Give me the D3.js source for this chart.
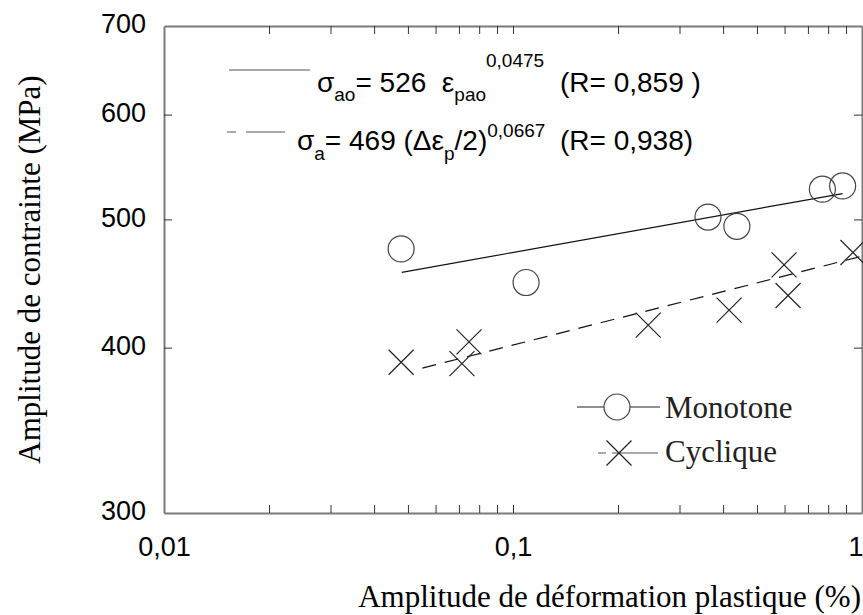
<!DOCTYPE html>
<html><head><meta charset="utf-8">
<script src="https://cdn.jsdelivr.net/npm/d3@7"></script>
<style>body{margin:0;background:#fff} text{white-space:pre}</style>
</head><body><svg id="c" width="863" height="615"></svg>
<script>
// ---- data ----
const monoX = [0.0478, 0.109, 0.362, 0.438, 0.77, 0.88];
const monoY = [475, 448, 502, 494, 527, 530];
const cycX = [0.0478, 0.0714, 0.0748, 0.244, 0.416, 0.598, 0.614, 0.942];
const cycY = [390, 389, 404, 416, 427, 462, 438, 472];
const fitMonoX = [0.048, 0.88];
const fitMonoY = [456, 523];
const fitCycX = [0.055, 1.0];
const fitCycY = [386, 469];
const xMajor = [0.01, 0.1, 1];
const xMajorLabels = ["0,01", "0,1", "1"];
const xMinor = [0.02,0.03,0.04,0.05,0.06,0.07,0.08,0.09,0.2,0.3,0.4,0.5,0.6,0.7,0.8,0.9];
const yTicks = [300, 400, 500, 600, 700];
const yTickLabels = ["300", "400", "500", "600", "700"];
const legendNames = ["Monotone", "Cyclique"];

// ---- layout ----
const L = 164, R = 862, T = 26, B = 513;
const svg = d3.select("#c");
const x = d3.scaleLog().domain([0.01, 1]).range([L, R]);
const y = d3.scaleLog().domain([300, 700]).range([B, T]);
const sans = "'Liberation Sans', Arial, sans-serif";
const serif = "'Liberation Serif', 'Times New Roman', serif";
const axisCol = "#7a7a7a", tickCol = "#333";

function styleAxis(g) {
  g.select(".domain").attr("stroke", axisCol).attr("stroke-width", 2);
  g.selectAll(".tick line").attr("stroke", tickCol).attr("stroke-width", 1);
  g.selectAll(".tick text").attr("font-family", sans).attr("font-size", 27).attr("fill", "#000");
}
const xVals = xMajor.concat(xMinor);
const fmtX = d => { const i = xMajor.indexOf(d); return i >= 0 ? xMajorLabels[i] : ""; };

const gx = svg.append("g").attr("transform", `translate(0,${B})`)
  .call(d3.axisBottom(x).tickValues(xVals).tickFormat(fmtX).tickSize(-8).tickSizeOuter(0).tickPadding(24))
  .call(styleAxis);
// last label sits against the right edge of the page
gx.selectAll(".tick text").filter(d => d === 1).attr("text-anchor", "end").attr("dx", 1);
svg.append("g").attr("transform", `translate(0,${T})`)
  .call(d3.axisTop(x).tickValues(xVals).tickFormat("").tickSize(-8).tickSizeOuter(0))
  .call(styleAxis);
svg.append("g").attr("transform", `translate(${L},0)`)
  .call(d3.axisLeft(y).tickValues(yTicks).tickFormat((d,i) => yTickLabels[i]).tickSize(-8).tickSizeOuter(0).tickPadding(18))
  .call(styleAxis)
  .selectAll(".tick text").attr("dy", "0.25em");
svg.append("g").attr("transform", `translate(${R},0)`)
  .call(d3.axisRight(y).tickValues(yTicks.slice(1, -1)).tickFormat("").tickSize(-8).tickSizeOuter(0))
  .call(styleAxis);
svg.selectAll(".tick").filter(d => d === 0.01 || d === 1 || d === 300 || d === 700).select("line").remove();

// axis titles
svg.append("text").attr("x", 861).attr("y", 607).attr("text-anchor", "end")
  .attr("font-family", serif).attr("font-size", 31).text("Amplitude de déformation plastique (%)");
svg.append("text").attr("transform", `translate(40,${(T + B) / 2}) rotate(-90)`).attr("text-anchor", "middle")
  .attr("font-family", serif).attr("font-size", 31).text("Amplitude de contrainte (MPa)");

// fit lines
const line = d3.line().x(d => x(d[0])).y(d => y(d[1]));
svg.append("path").datum(fitMonoX.map((v, i) => [v, fitMonoY[i]])).attr("d", line)
  .attr("fill", "none").attr("stroke", "#111").attr("stroke-width", 1.2);
svg.append("path").datum(fitCycX.map((v, i) => [v, fitCycY[i]])).attr("d", line)
  .attr("fill", "none").attr("stroke", "#111").attr("stroke-width", 1.2).attr("stroke-dasharray", "14,9");

// markers
const rC = 13, s = 12.5;
svg.append("g").selectAll("circle").data(monoX.map((v, i) => [v, monoY[i]])).join("circle")
  .attr("cx", d => x(d[0])).attr("cy", d => y(d[1])).attr("r", rC)
  .attr("fill", "none").attr("stroke", "#444").attr("stroke-width", 1.2);
const crossPath = (cx, cy) => `M${cx - s},${cy - s}L${cx + s},${cy + s}M${cx - s},${cy + s}L${cx + s},${cy - s}`;
svg.append("g").selectAll("path").data(cycX.map((v, i) => [v, cycY[i]])).join("path")
  .attr("d", d => crossPath(x(d[0]), y(d[1])))
  .attr("fill", "none").attr("stroke", "#222").attr("stroke-width", 1.2);

// equation legend
svg.append("line").attr("x1", 229).attr("x2", 310).attr("y1", 70).attr("y2", 70).attr("stroke", "#555").attr("stroke-width", 1.2);
svg.append("line").attr("x1", 227).attr("x2", 285).attr("y1", 132).attr("y2", 132).attr("stroke", "#555").attr("stroke-width", 1.2).attr("stroke-dasharray", "9,10,40");
const t1 = svg.append("text").attr("x", 317).attr("y", 92).attr("font-family", sans).attr("font-size", 28);
t1.append("tspan").text("σ");
t1.append("tspan").attr("font-size", 19).attr("dy", 9).text("ao");
t1.append("tspan").attr("dy", -9).text("= 526  ε");
t1.append("tspan").attr("font-size", 19).attr("dy", 9).text("pao");
t1.append("tspan").attr("font-size", 19).attr("dy", -34).text("0,0475");
svg.append("text").attr("x", 560).attr("y", 92).attr("font-family", sans).attr("font-size", 28).text("(R= 0,859 )");
const t2 = svg.append("text").attr("x", 297).attr("y", 150).attr("font-family", sans).attr("font-size", 28);
t2.append("tspan").text("σ");
t2.append("tspan").attr("font-size", 19).attr("dy", 10).text("a");
t2.append("tspan").attr("dy", -10).text("= 469 (Δε");
t2.append("tspan").attr("font-size", 19).attr("dy", 10).text("p");
t2.append("tspan").attr("dy", -10).text("/2)");
t2.append("tspan").attr("font-size", 19).attr("dy", -13).text("0,0667");
svg.append("text").attr("x", 560).attr("y", 150).attr("font-family", sans).attr("font-size", 28).text("(R= 0,938)");

// marker legend
const lg = svg.append("g");
lg.append("line").attr("x1", 577).attr("x2", 660).attr("y1", 407).attr("y2", 407).attr("stroke", "#222").attr("stroke-width", 1.2);
lg.append("circle").attr("cx", 617).attr("cy", 407).attr("r", 13).attr("fill", "#fff").attr("stroke", "#444").attr("stroke-width", 1.2);
lg.append("line").attr("x1", 598).attr("x2", 658).attr("y1", 453).attr("y2", 453).attr("stroke", "#555").attr("stroke-width", 1.2).attr("stroke-dasharray", "8,6,60");
lg.append("path").attr("d", crossPath(619, 453)).attr("fill", "none").attr("stroke", "#222").attr("stroke-width", 1.2);
lg.selectAll("text").data(legendNames).join("text")
  .attr("x", 665).attr("y", (d, i) => 418 + i * 44)
  .attr("font-family", serif).attr("font-size", 31).attr("fill", "#222").text(d => d);
</script></body></html>
